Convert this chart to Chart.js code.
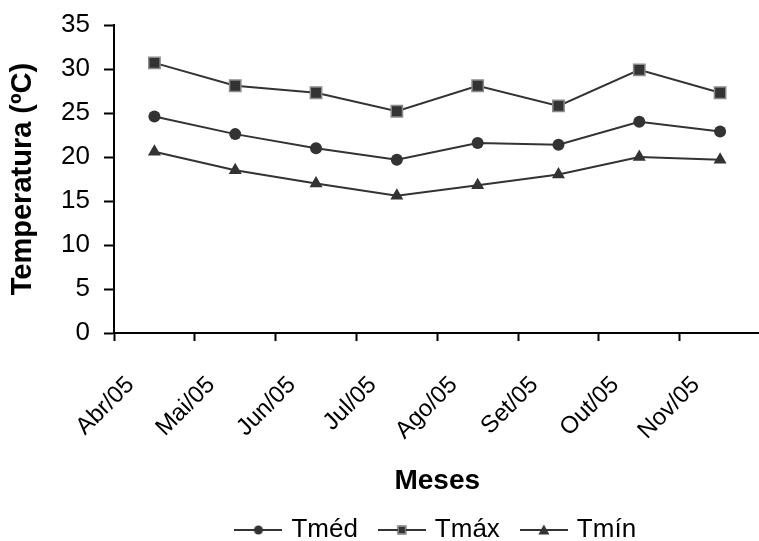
<!DOCTYPE html>
<html>
<head>
<meta charset="utf-8">
<script src="https://cdn.jsdelivr.net/npm/chart.js@4"></script>
<style>
  html, body { margin: 0; padding: 0; background: #fff; overflow: hidden; }
  #wrap { width: 770px; height: 541px; }
</style>
</head>
<body>
<div id="wrap"><canvas id="tempChart" width="770" height="541"></canvas></div>
<script>
// Data
const meses = ['Abr/05', 'Mai/05', 'Jun/05', 'Jul/05', 'Ago/05', 'Set/05', 'Out/05', 'Nov/05'];
const tMed = [24.6, 22.6, 21.0, 19.7, 21.6, 21.4, 24.0, 22.9];
const tMax = [30.7, 28.1, 27.3, 25.2, 28.1, 25.8, 29.9, 27.3];
const tMin = [20.6, 18.5, 17.0, 15.6, 16.8, 18.0, 20.0, 19.7];
const yTicks = [0, 5, 10, 15, 20, 25, 30, 35];

const INK = '#333333';
const FONT = 'Arial, "Liberation Sans", sans-serif';

// legend swatches: line with marker in the middle
function legendSwatch(kind) {
    const c = document.createElement('canvas');
    c.width = 48; c.height = 14;
    const g = c.getContext('2d');
    g.strokeStyle = INK; g.lineWidth = 2;
    g.beginPath(); g.moveTo(0, 7); g.lineTo(48, 7); g.stroke();
    g.fillStyle = INK;
    if (kind === 'circle') {
        g.beginPath(); g.arc(24, 7, 4.5, 0, Math.PI * 2); g.fill();
    } else if (kind === 'rect') {
        g.fillRect(19.5, 2.5, 9, 9);
        g.strokeStyle = '#888'; g.lineWidth = 1;
        g.strokeRect(20.5, 3.5, 7, 7);
    } else {
        g.beginPath(); g.moveTo(24, 1.5); g.lineTo(29.5, 11.5); g.lineTo(18.5, 11.5); g.closePath(); g.fill();
    }
    return c;
}
const swatches = [legendSwatch('circle'), legendSwatch('rect'), legendSwatch('triangle')];

const ctx = document.getElementById('tempChart').getContext('2d');
const tempChart = new Chart(ctx, {
    type: 'line',
    data: {
        labels: meses,
        datasets: [
            {
                label: 'Tméd',
                data: tMed,
                borderColor: INK,
                backgroundColor: INK,
                borderWidth: 2,
                pointStyle: 'circle',
                pointRadius: 6,
                pointBorderWidth: 0,
                fill: false
            },
            {
                label: 'Tmáx',
                data: tMax,
                borderColor: INK,
                backgroundColor: INK,
                pointBorderColor: '#8a8a8a',
                borderWidth: 2,
                pointStyle: 'rect',
                pointRadius: 8,
                pointBorderWidth: 1.5,
                fill: false
            },
            {
                label: 'Tmín',
                data: tMin,
                borderColor: INK,
                backgroundColor: INK,
                borderWidth: 2,
                pointStyle: 'triangle',
                pointRadius: 7.5,
                pointBorderWidth: 0,
                fill: false
            }
        ]
    },
    options: {
        responsive: false,
        animation: false,
        layout: { padding: { top: 25, right: 0, left: 0, bottom: -12 } },
        plugins: {
            tooltip: { enabled: false },
            legend: {
                position: 'bottom',
                fullSize: false,
                labels: {
                    color: '#000',
                    font: { family: FONT, size: 26 },
                    usePointStyle: true,
                    pointStyleWidth: 40,
                    padding: 24,
                    generateLabels(chart) {
                        const items = Chart.defaults.plugins.legend.labels.generateLabels(chart);
                        items.forEach((it, i) => { it.pointStyle = swatches[i]; });
                        return items;
                    }
                }
            }
        },
        scales: {
            x: {
                offset: true,
                grid: {
                    display: true,
                    drawOnChartArea: false,
                    drawTicks: true,
                    tickLength: 8,
                    tickWidth: 2,
                    color: '#000',
                    offset: true
                },
                border: { color: '#000', width: 2 },
                ticks: {
                    color: '#000',
                    font: { family: FONT, size: 24 },
                    maxRotation: 45,
                    minRotation: 45,
                    padding: 30,
                    labelOffset: -24
                },
                title: {
                    display: true,
                    text: 'Meses',
                    color: '#000',
                    font: { family: FONT, size: 28, weight: 'bold' },
                    padding: { top: 4, bottom: -5 }
                },
                afterFit(scale) {
                    scale.height = 160;
                    scale.paddingLeft = 0;
                    scale.paddingRight = 0;
                }
            },
            y: {
                min: 0,
                max: 35,
                afterBuildTicks(scale) { scale.ticks = yTicks.map(v => ({ value: v })); },
                grid: {
                    display: true,
                    drawOnChartArea: false,
                    drawTicks: true,
                    tickLength: 10,
                    tickWidth: 2,
                    color: '#000'
                },
                border: { color: '#000', width: 2 },
                ticks: {
                    color: '#000',
                    font: { family: FONT, size: 26 },
                    padding: 14
                },
                title: {
                    display: true,
                    text: 'Temperatura (ºC)',
                    color: '#000',
                    font: { family: FONT, size: 29, weight: 'bold' },
                    padding: { top: 6, bottom: 0 }
                },
                afterFit(scale) {
                    scale.width = 114;
                    scale.paddingTop = 0;
                    scale.paddingBottom = 0;
                }
            }
        }
    }
});
</script>
</body>
</html>
